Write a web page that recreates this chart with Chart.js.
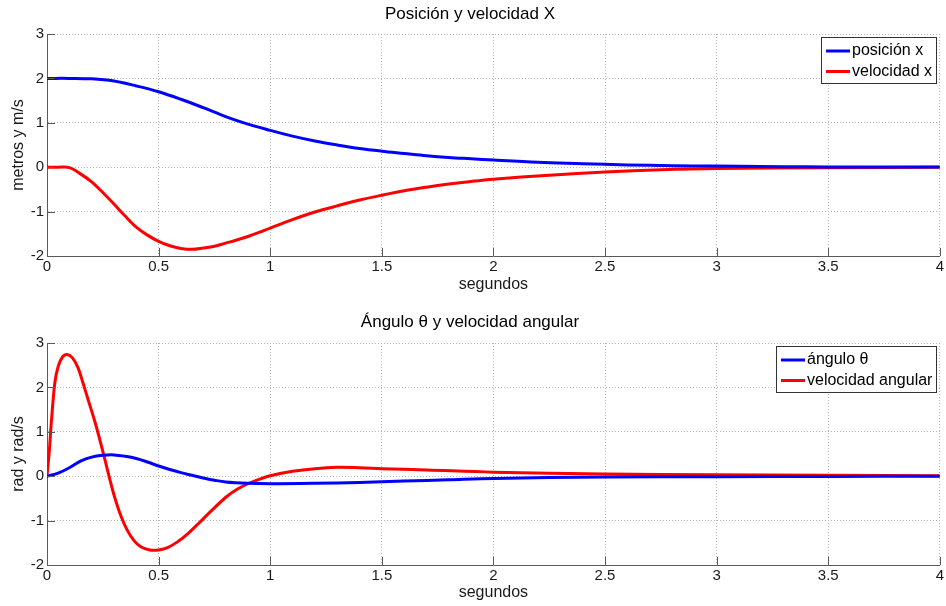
<!DOCTYPE html>
<html>
<head>
<meta charset="utf-8">
<title>Posición y ángulo</title>
<script src="https://cdn.jsdelivr.net/npm/chart.js@4.4.1/dist/chart.umd.min.js"></script>
<style>
	body { margin: 0; background: #fff; }
	.panel { position: absolute; left: 0; width: 946px; height: 303px; }
</style>
</head>
<body>
<div class="panel" style="top:0"><canvas id="chartX"></canvas></div>
<div class="panel" style="top:303px"><canvas id="chartTheta"></canvas></div>
<script>
// posición x (m)
const tiempoPos = [0, 0.1, 0.2, 0.3, 0.4, 0.5, 0.6, 0.7, 0.8, 0.9, 1.0, 1.1, 1.2, 1.3, 1.4, 1.5, 1.6, 1.7, 1.8, 1.9, 2.0, 2.2, 2.4, 2.6, 2.8, 3.0, 3.2, 3.4, 3.6, 3.8, 4.0];
const posicionX = [2.00, 2.00, 1.99, 1.94, 1.83, 1.70, 1.53, 1.34, 1.14, 0.97, 0.83, 0.70, 0.59, 0.50, 0.42, 0.36, 0.31, 0.26, 0.22, 0.19, 0.16, 0.11, 0.08, 0.05, 0.035, 0.025, 0.015, 0.01, 0.005, 0.003, 0.002];

// velocidad x (m/s)
const tiempoVel = [0, 0.05, 0.1, 0.15, 0.2, 0.25, 0.3, 0.35, 0.4, 0.45, 0.5, 0.55, 0.6, 0.65, 0.7, 0.75, 0.8, 0.85, 0.9, 0.95, 1.0, 1.1, 1.2, 1.3, 1.4, 1.5, 1.6, 1.7, 1.8, 1.9, 2.0, 2.25, 2.5, 2.75, 3.0, 3.5, 4.0];
const velocidadX = [0, 0, -0.01, -0.15, -0.33, -0.57, -0.83, -1.10, -1.35, -1.53, -1.67, -1.77, -1.83, -1.85, -1.82, -1.78, -1.71, -1.64, -1.56, -1.47, -1.37, -1.18, -1.01, -0.87, -0.74, -0.63, -0.53, -0.45, -0.38, -0.32, -0.27, -0.18, -0.11, -0.06, -0.03, -0.01, 0];

// ángulo theta (rad)
const tiempoAng = [0, 0.05, 0.1, 0.15, 0.2, 0.25, 0.3, 0.35, 0.4, 0.45, 0.5, 0.55, 0.6, 0.65, 0.7, 0.75, 0.8, 0.9, 1.0, 1.2, 1.4, 1.6, 1.8, 2.0, 2.5, 3.0, 3.5, 4.0];
const anguloTheta = [0, 0.07, 0.19, 0.34, 0.43, 0.47, 0.48, 0.45, 0.40, 0.32, 0.23, 0.15, 0.08, 0.02, -0.04, -0.09, -0.13, -0.16, -0.17, -0.16, -0.14, -0.11, -0.08, -0.05, -0.02, -0.01, -0.005, 0];

// velocidad angular (rad/s)
const tiempoOmega = [0, 0.01, 0.02, 0.035, 0.05, 0.07, 0.09, 0.115, 0.14, 0.16, 0.185, 0.215, 0.245, 0.275, 0.30, 0.33, 0.36, 0.39, 0.42, 0.46, 0.50, 0.54, 0.59, 0.63, 0.68, 0.72, 0.80, 0.85, 0.90, 0.95, 1.0, 1.1, 1.2, 1.3, 1.4, 1.5, 1.7, 2.0, 2.5, 3.0, 3.5, 4.0];
const velocidadAngular = [0, 0.55, 1.25, 2.1, 2.47, 2.69, 2.74, 2.66, 2.43, 2.12, 1.71, 1.22, 0.66, 0.06, -0.42, -0.88, -1.22, -1.45, -1.59, -1.66, -1.66, -1.61, -1.46, -1.30, -1.06, -0.86, -0.48, -0.30, -0.17, -0.07, 0.01, 0.11, 0.17, 0.20, 0.19, 0.17, 0.14, 0.09, 0.05, 0.03, 0.02, 0.01];

const fontFamily = '"Liberation Sans", Arial, Helvetica, sans-serif';
const axisColor = '#5a5a5a';
const gridColor = '#b4b4b4';

Chart.defaults.font.family = fontFamily;
Chart.defaults.color = '#1a1a1a';

function toPoints(xs, ys) {
	return xs.map((t, i) => ({ x: t, y: ys[i] }));
}

// short tick marks pointing into the plot, matlab style
const inwardTicks = {
	id: 'inwardTicks',
	afterDatasetsDraw(chart) {
		const { ctx, chartArea: a, scales: { x, y } } = chart;
		ctx.save();
		ctx.strokeStyle = axisColor;
		ctx.lineWidth = 1;
		ctx.beginPath();
		x.ticks.forEach(t => {
			const px = Math.round(x.getPixelForValue(t.value)) + 0.5;
			ctx.moveTo(px, a.bottom);
			ctx.lineTo(px, a.bottom - 8);
		});
		y.ticks.forEach(t => {
			const py = Math.round(y.getPixelForValue(t.value)) + 0.5;
			ctx.moveTo(a.left, py);
			ctx.lineTo(a.left + 8, py);
		});
		ctx.stroke();
		ctx.restore();
	}
};

// boxed legend in the upper right corner of the plot
const legendBox = {
	id: 'legendBox',
	afterDraw(chart) {
		const { ctx, chartArea: a } = chart;
		const sets = chart.data.datasets;
		ctx.save();
		ctx.font = '16px ' + fontFamily;
		const textW = Math.max(...sets.map(d => ctx.measureText(d.label).width));
		const w = Math.round(5 + 24 + 2 + textW + 4);
		const h = 46;
		const left = Math.round(a.right - 4 - w);
		const top = Math.round(a.top + 3);
		ctx.fillStyle = '#fff';
		ctx.fillRect(left, top, w, h);
		ctx.strokeStyle = '#333';
		ctx.lineWidth = 1;
		ctx.strokeRect(left + 0.5, top + 0.5, w, h);
		sets.forEach((d, i) => {
			const cy = top + 14 + i * 20.5;
			ctx.strokeStyle = d.borderColor;
			ctx.lineWidth = 3;
			ctx.beginPath();
			ctx.moveTo(left + 5, cy);
			ctx.lineTo(left + 29, cy);
			ctx.stroke();
			ctx.fillStyle = '#000';
			ctx.textBaseline = 'middle';
			ctx.fillText(d.label, left + 31, cy);
		});
		ctx.restore();
	}
};

function makeChart(canvasId, title, yLabel, series, lay) {
	return new Chart(document.getElementById(canvasId), {
		type: 'line',
		data: {
			datasets: series.map(s => ({
				label: s.label,
				data: s.data,
				borderColor: s.color,
				backgroundColor: s.color,
				borderWidth: 3,
				pointRadius: 0,
				tension: 0.35,
				fill: false,
			}))
		},
		options: {
			responsive: true,
			maintainAspectRatio: false,
			animation: false,
			layout: { padding: { left: 0, right: 6, top: 0, bottom: 0 } },
			plugins: {
				legend: { display: false },
				tooltip: { enabled: false },
				title: {
					display: true,
					text: title,
					color: '#000',
					font: { size: 17, weight: 'normal' },
					padding: lay.titlePadding,
				}
			},
			scales: {
				x: {
					type: 'linear',
					min: 0,
					max: 4,
					afterFit: scale => { scale.height = lay.xHeight; },
					ticks: { stepSize: 0.5, padding: 2, font: { size: 15 }, color: '#1a1a1a', callback: v => String(v) },
					grid: { color: gridColor, drawTicks: false },
					border: { color: axisColor, dash: [1, 2] },
					title: { display: true, text: 'segundos', font: { size: 16 }, color: '#1a1a1a', padding: { top: 0, bottom: lay.xTitleBottom } },
				},
				y: {
					min: -2,
					max: 3,
					afterFit: scale => { scale.width = 47; },
					ticks: { stepSize: 1, padding: 3, font: { size: 15 }, color: '#1a1a1a', callback: v => String(v) },
					grid: { color: gridColor, drawTicks: false },
					border: { color: axisColor, dash: [1, 2] },
					title: { display: true, text: yLabel, font: { size: 16 }, color: '#1a1a1a', padding: { top: 9, bottom: 0 } },
				}
			}
		},
		plugins: [inwardTicks, legendBox]
	});
}

makeChart('chartX', 'Posición y velocidad X', 'metros y m/s', [
	{ label: 'posición x', data: toPoints(tiempoPos, posicionX), color: '#0000ff' },
	{ label: 'velocidad x', data: toPoints(tiempoVel, velocidadX), color: '#ff0000' },
], { titlePadding: { top: 4, bottom: 9.6 }, xHeight: 47, xTitleBottom: 9 });

makeChart('chartTheta', 'Ángulo θ y velocidad angular', 'rad y rad/s', [
	{ label: 'ángulo θ', data: toPoints(tiempoAng, anguloTheta), color: '#0000ff' },
	{ label: 'velocidad angular', data: toPoints(tiempoOmega, velocidadAngular), color: '#ff0000' },
], { titlePadding: { top: 8.8, bottom: 10.8 }, xHeight: 41, xTitleBottom: 4 });
</script>
</body>
</html>
